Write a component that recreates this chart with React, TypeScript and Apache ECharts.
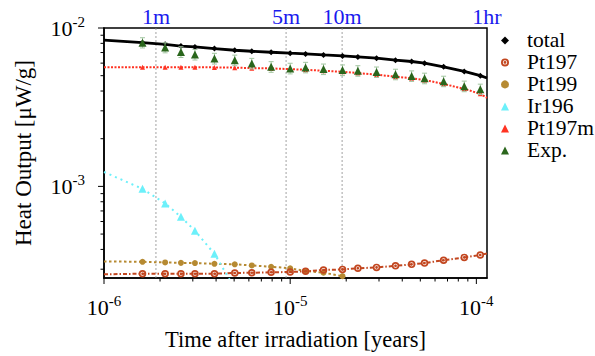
import React, { useEffect, useRef } from "react";
import * as echarts from "echarts";

// ---- data (years on x, µW/g on y) ----
const X_MIN = 1e-6;
const X_MAX = 1.1408e-4; // 1 hour
const Y_MIN = 2.64e-4;
const Y_MAX = 1e-2;

const TIMES = [
  1.61e-6, 2.13e-6, 2.59e-6, 3.08e-6, 3.92e-6, 5.04e-6, 6.22e-6, 7.9e-6, 1.0e-5, 1.21e-5,
  1.51e-5, 1.91e-5, 2.31e-5, 2.91e-5, 3.68e-5, 4.49e-5, 5.27e-5, 6.67e-5, 8.61e-5, 1.05e-4,
];

const TOTAL_START = 8.39e-3;
const TOTAL = [
  8.08e-3, 7.886e-3, 7.69e-3, 7.59e-3, 7.41e-3, 7.235e-3, 7.13e-3, 7.03e-3, 6.93e-3, 6.86e-3,
  6.76e-3, 6.66e-3, 6.57e-3, 6.45e-3, 6.26e-3, 6.145e-3, 6.0e-3, 5.69e-3, 5.32e-3, 5.0e-3,
];
const TOTAL_END = 4.835e-3;

const PT197M_START = 5.66e-3;
const PT197M = [
  5.66e-3, 5.66e-3, 5.66e-3, 5.65e-3, 5.64e-3, 5.62e-3, 5.58e-3, 5.56e-3, 5.5e-3, 5.45e-3,
  5.37e-3, 5.29e-3, 5.195e-3, 5.07e-3, 4.93e-3, 4.815e-3, 4.7e-3, 4.43e-3, 4.13e-3, 3.84e-3,
];
const PT197M_END = 3.625e-3;

const EXP = [
  8.08e-3, 7.52e-3, 7.06e-3, 6.8e-3, 6.42e-3, 6.26e-3, 5.97e-3, 5.69e-3, 5.56e-3, 5.64e-3,
  5.5e-3, 5.425e-3, 5.37e-3, 5.27e-3, 5.1e-3, 4.98e-3, 4.815e-3, 4.61e-3, 4.29e-3, 4.11e-3,
];
const EXP_ERR = [
  0.6e-3, 0.55e-3, 0.55e-3, 0.52e-3, 0.5e-3, 0.48e-3, 0.46e-3, 0.44e-3, 0.43e-3, 0.43e-3,
  0.42e-3, 0.42e-3, 0.41e-3, 0.4e-3, 0.39e-3, 0.38e-3, 0.37e-3, 0.35e-3, 0.33e-3, 0.31e-3,
];

const PT197_START = 2.786e-4;
const PT197 = [
  2.81e-4, 2.81e-4, 2.81e-4, 2.81e-4, 2.81e-4, 2.84e-4, 2.85e-4, 2.87e-4, 2.88e-4, 2.91e-4,
  2.965e-4, 2.99e-4, 3.04e-4, 3.08e-4, 3.15e-4, 3.22e-4, 3.28e-4, 3.42e-4, 3.56e-4, 3.69e-4,
];
const PT197_END = 3.77e-4;

const PT199_START = 3.36e-4;
const PT199 = [
  3.34e-4, 3.31e-4, 3.29e-4, 3.28e-4, 3.245e-4, 3.22e-4, 3.17e-4, 3.11e-4, 3.04e-4, 2.92e-4,
  2.85e-4, 2.71e-4,
];

const IR196_START = 1.233e-3;
const IR196 = [9.65e-4, 7.81e-4, 6.42e-4, 5.25e-4, 3.75e-4];
const IR196_TAIL = 2.275e-4; // at TIMES[5], below the axis

const TOP_NAMES = ["1m", "5m", "10m", "1hr"];
const TOP_TIMES = [1.901e-6, 9.506e-6, 1.901e-5, 1.1408e-4];
const TOP_LINE = [1, 1, 1, 0];

const X_MAJOR = [1e-6, 1e-5, 1e-4];
const X_MINOR = [2e-6, 3e-6, 4e-6, 5e-6, 6e-6, 7e-6, 8e-6, 9e-6, 2e-5, 3e-5, 4e-5, 5e-5, 6e-5, 7e-5, 8e-5, 9e-5];
const Y_MAJOR = [1e-3, 1e-2];
const Y_MINOR = [3e-4, 4e-4, 5e-4, 6e-4, 7e-4, 8e-4, 9e-4, 2e-3, 3e-3, 4e-3, 5e-3, 6e-3, 7e-3, 8e-3, 9e-3];

const FONT = "Liberation Serif";

const C_TOTAL = "#000000";
const C_PT197 = "#c2461f";
const C_PT199 = "#b68a32";
const C_IR196 = "#6cf0fa";
const C_PT197M = "#ff3322";
const C_EXP = "#2a661c";
const C_ERR = "#a3c6a1";
const C_TOP = "#1a1aee";

// disc with a thin light ring inside (⊙ look)
const RING_DOT =
  "path://M0,-10A10,10 0 1,1 0,10A10,10 0 1,1 0,-10Z" +
  "M0,-5.5A5.5,5.5 0 1,0 0,5.5A5.5,5.5 0 1,0 0,-5.5Z" +
  "M0,-3.5A3.5,3.5 0 1,1 0,3.5A3.5,3.5 0 1,1 0,-3.5Z";

function noSym(x: number, y: number) {
  return { value: [x, y], symbol: "none" };
}

export default function App() {
  const ref = useRef<HTMLDivElement>(null);

  useEffect(() => {
    if (!ref.current) return;
    const chart = echarts.init(ref.current, null, { renderer: "svg" });

    const totalData: any[] = [noSym(X_MIN, TOTAL_START), ...TIMES.map((t, i) => [t, TOTAL[i]]), noSym(X_MAX, TOTAL_END)];
    const pt197mData: any[] = [noSym(X_MIN, PT197M_START), ...TIMES.map((t, i) => [t, PT197M[i]]), noSym(X_MAX, PT197M_END)];
    const pt197Data: any[] = [noSym(X_MIN, PT197_START), ...TIMES.map((t, i) => [t, PT197[i]]), noSym(X_MAX, PT197_END)];
    const pt199Data: any[] = [noSym(X_MIN, PT199_START), ...PT199.map((v, i) => [TIMES[i], v])];
    const ir196Data: any[] = [noSym(X_MIN, IR196_START), ...IR196.map((v, i) => [TIMES[i], v]), noSym(TIMES[IR196.length], IR196_TAIL)];
    const expData = TIMES.map((t, i) => [t, EXP[i]]);
    const errData = TIMES.map((t, i) => [t, EXP[i] - EXP_ERR[i], EXP[i] + EXP_ERR[i]]);
    const topData = TOP_TIMES.map((t, i) => [t, Y_MAX, TOP_LINE[i]]);

    const tickData: any[] = [
      ...X_MAJOR.map((v) => [v, Y_MIN, 1, 1]),
      ...X_MINOR.map((v) => [v, Y_MIN, 1, 0]),
      ...Y_MAJOR.map((v) => [X_MIN, v, 0, 1]),
      ...Y_MINOR.map((v) => [X_MIN, v, 0, 0]),
    ];

    const isPow = (v: number) => {
      const l = Math.log10(v);
      return Math.abs(l - Math.round(l)) < 1e-6;
    };
    const powFmt = (v: number) => (isPow(v) ? `{b|10}{s|${Math.round(Math.log10(v))}}` : "");
    const rich = {
      b: { fontFamily: FONT, fontSize: 22, lineHeight: 28, color: "#000" },
      s: { fontFamily: FONT, fontSize: 15, lineHeight: 15, verticalAlign: "top", color: "#000" },
    };

    chart.setOption({
      animation: false,
      backgroundColor: "#ffffff",
      grid: {
        left: 104,
        top: 28,
        right: 108,
        bottom: 75,
        show: true,
        borderColor: "#000",
        borderWidth: 1.5,
        backgroundColor: "transparent",
      },
      legend: {
        orient: "vertical",
        left: 501,
        top: 29.4,
        padding: 0,
        itemGap: 0,
        itemWidth: 8,
        itemHeight: 8,
        symbolKeepAspect: true,
        textStyle: { fontFamily: FONT, fontSize: 21.5, lineHeight: 21.3, color: "#000", padding: [0, 0, 0, 13] },
        data: [
          { name: "total", icon: "diamond", itemStyle: { color: C_TOTAL } },
          { name: "Pt197", icon: RING_DOT, itemStyle: { color: C_PT197 } },
          { name: "Pt199", icon: "circle", itemStyle: { color: C_PT199 } },
          { name: "Ir196", icon: "triangle", itemStyle: { color: C_IR196 } },
          { name: "Pt197m", icon: "triangle", itemStyle: { color: C_PT197M } },
          { name: "Exp.", icon: "triangle", itemStyle: { color: C_EXP } },
        ],
      },
      xAxis: {
        type: "log",
        logBase: 10,
        min: X_MIN,
        max: X_MAX,
        axisLine: { show: true, lineStyle: { color: "#000", width: 1.5 } },
        axisTick: { show: false },
        splitLine: { show: false },
        axisLabel: { formatter: powFmt, rich, margin: 15.5 },
        name: "Time after irradiation [years]",
        nameLocation: "middle",
        nameGap: 50,
        nameTextStyle: { fontFamily: FONT, fontSize: 22.5, color: "#000" },
      },
      yAxis: {
        type: "log",
        logBase: 10,
        min: Y_MIN,
        max: Y_MAX,
        axisLine: { show: true, lineStyle: { color: "#000", width: 1.5 } },
        axisTick: { show: false },
        splitLine: { show: false },
        axisLabel: { formatter: powFmt, rich, margin: 19 },
        name: "Heat Output [\u03bcW/g]",
        nameLocation: "middle",
        nameGap: 69,
        nameTextStyle: { fontFamily: FONT, fontSize: 23, color: "#000" },
      },
      series: [
        {
          type: "custom",
          name: "timeMarks",
          coordinateSystem: "cartesian2d",
          data: topData,
          encode: { x: 0, y: 1 },
          silent: true,
          clip: false,
          z: 1,
          renderItem: (params: any, api: any) => {
            const t = api.value(0);
            const top = api.coord([t, Y_MAX]);
            const bot = api.coord([t, Y_MIN]);
            const children: any[] = [];
            if (api.value(2)) {
              children.push({
                type: "line",
                shape: { x1: top[0], y1: top[1], x2: bot[0], y2: bot[1] },
                style: { stroke: "#8a8a8a", lineWidth: 0.8, lineDash: [2, 2] },
              });
            }
            children.push({
              type: "text",
              style: {
                text: TOP_NAMES[params.dataIndex],
                x: top[0],
                y: top[1] - 0.5,
                fill: C_TOP,
                fontFamily: FONT,
                fontSize: 22,
                align: "center",
                verticalAlign: "bottom",
              },
            });
            return { type: "group", children };
          },
        },
        {
          type: "line",
          name: "Pt199",
          data: pt199Data,
          symbol: "circle",
          symbolSize: 6,
          itemStyle: { color: C_PT199 },
          lineStyle: { color: C_PT199, width: 2, type: [2.5, 2.5] },
          z: 2,
        },
        {
          type: "line",
          name: "Pt197",
          data: pt197Data,
          symbol: RING_DOT,
          symbolSize: 7.5,
          symbolKeepAspect: true,
          itemStyle: { color: C_PT197 },
          lineStyle: { color: C_PT197, width: 2, type: [4, 2, 1.5, 2] },
          z: 3,
        },
        {
          type: "line",
          name: "Ir196",
          data: ir196Data,
          symbol: "triangle",
          symbolSize: 8,
          itemStyle: { color: C_IR196 },
          lineStyle: { color: C_IR196, width: 2, type: [2, 4] },
          z: 3,
        },
        {
          type: "line",
          name: "Pt197m",
          data: pt197mData,
          symbol: "triangle",
          symbolSize: 5,
          itemStyle: { color: C_PT197M },
          lineStyle: { color: C_PT197M, width: 2, type: [2, 1.5] },
          z: 4,
        },
        {
          type: "line",
          name: "total",
          data: totalData,
          symbol: "diamond",
          symbolSize: 6,
          itemStyle: { color: C_TOTAL },
          lineStyle: { color: C_TOTAL, width: 2.8 },
          z: 5,
        },
        {
          type: "custom",
          name: "expErr",
          coordinateSystem: "cartesian2d",
          data: errData,
          encode: { x: 0, y: [1, 2] },
          silent: true,
          z: 6,
          renderItem: (params: any, api: any) => {
            const x = api.value(0);
            const lo = api.coord([x, api.value(1)]);
            const hi = api.coord([x, api.value(2)]);
            const w = 2.5;
            const st = { stroke: C_ERR, lineWidth: 1 };
            return {
              type: "group",
              children: [
                { type: "line", shape: { x1: lo[0], y1: lo[1], x2: hi[0], y2: hi[1] }, style: st },
                { type: "line", shape: { x1: lo[0] - w, y1: lo[1], x2: lo[0] + w, y2: lo[1] }, style: st },
                { type: "line", shape: { x1: hi[0] - w, y1: hi[1], x2: hi[0] + w, y2: hi[1] }, style: st },
              ],
            };
          },
        },
        {
          type: "scatter",
          name: "Exp.",
          data: expData,
          symbol: "triangle",
          symbolSize: 8,
          itemStyle: { color: C_EXP, opacity: 1 },
          z: 7,
        },
        {
          type: "custom",
          name: "ticks",
          coordinateSystem: "cartesian2d",
          data: tickData,
          encode: { x: 0, y: 1 },
          silent: true,
          clip: false,
          z: 8,
          renderItem: (params: any, api: any) => {
            const p = api.coord([api.value(0), api.value(1)]);
            const kind = api.value(2);
            const len = api.value(3) ? 6 : 3.5;
            const st = { stroke: "#000", lineWidth: 1 };
            if (kind === 1) {
              return { type: "line", shape: { x1: p[0], y1: p[1], x2: p[0], y2: p[1] + len }, style: st };
            }
            return { type: "line", shape: { x1: p[0], y1: p[1], x2: p[0] - len, y2: p[1] }, style: st };
          },
        },
      ],
    });

    return () => chart.dispose();
  }, []);

  return (
    <div
      ref={ref}
      style={{ position: "absolute", left: 0, top: 0, width: 595, height: 356, background: "#fff" }}
    />
  );
}
